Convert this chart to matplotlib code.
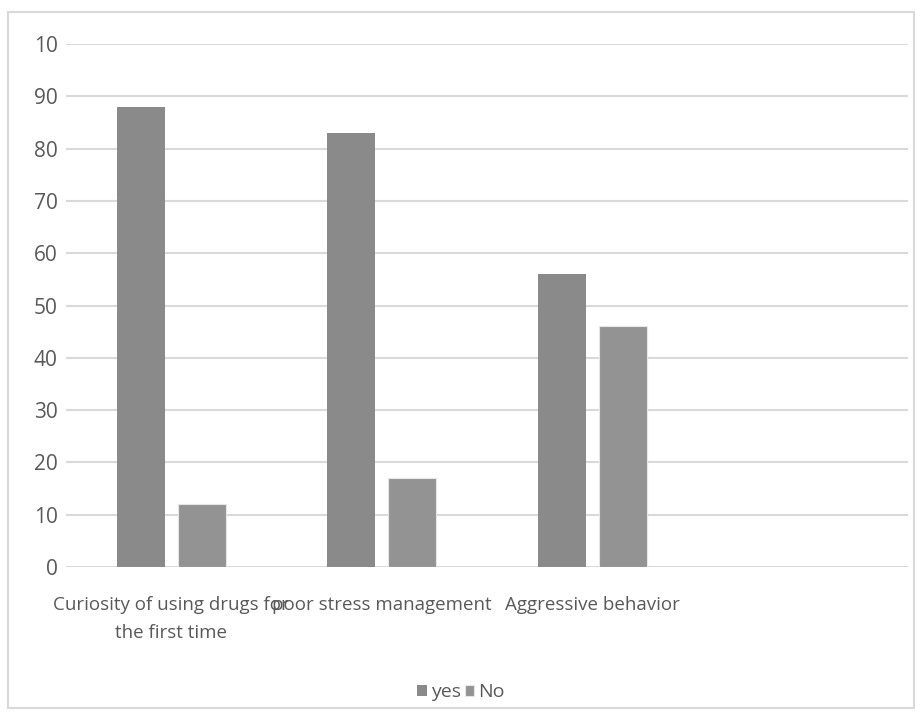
import numpy as np
import matplotlib.pyplot as plt
from matplotlib.patches import Rectangle

plt.rcParams['font.family'] = ['Open Sans', 'DejaVu Sans']

categories = ["Curiosity of using drugs for\nthe first time",
              "poor stress management",
              "Aggressive behavior",
              ""]
yes = [88, 83, 56, 0]
no = [12, 17, 46, 0]
yticks = [0, 10, 20, 30, 40, 50, 60, 70, 80, 90, 100]
ytick_labels = ["0", "10", "20", "30", "40", "50", "60", "70", "80", "90", "10"]

text_col = "#595959"
grid_col = "#d9d9d9"

fig = plt.figure(figsize=(9.22, 7.21), dpi=100)
fig.patches.append(Rectangle((8 / 922, 1 - 708 / 721), 906 / 922, 696 / 721,
                             transform=fig.transFigure, fill=False,
                             edgecolor=grid_col, linewidth=1.5))

ax = fig.add_axes([66 / 922, 1 - 567 / 721, 842 / 922, 523 / 721])
x = np.arange(len(categories))
w = 0.228
off = 0.145
ax.bar(x - off, yes, w, color="#8a8a8a", label="yes", zorder=3)
ax.bar(x + off, no, w, color="#939393", edgecolor="#e6e6e6", linewidth=0.8,
       label="No", zorder=3)

ax.set_xlim(-0.5, len(categories) - 0.5)
ax.set_ylim(0, 100)
ax.set_yticks(yticks)
ax.set_yticklabels(ytick_labels)
ax.set_xticks(x)
ax.set_xticklabels(categories, multialignment="center", linespacing=1.7)
ax.tick_params(axis="y", length=0, pad=6, labelsize=15, labelcolor=text_col)
ax.tick_params(axis="x", length=0, pad=21, labelsize=13.5, labelcolor=text_col)
ax.yaxis.grid(True, color=grid_col, linewidth=1.5, zorder=0)
for s in ax.spines.values():
    s.set_visible(False)

ax.legend(loc="center", bbox_to_anchor=(0.5, 1 - 692 / 721), bbox_transform=fig.transFigure,
          ncol=2, frameon=False, fontsize=14, labelcolor=text_col,
          handlelength=0.5, handleheight=0.5, handletextpad=0.2, columnspacing=0.2)

fig.savefig("out.png", dpi=100)
